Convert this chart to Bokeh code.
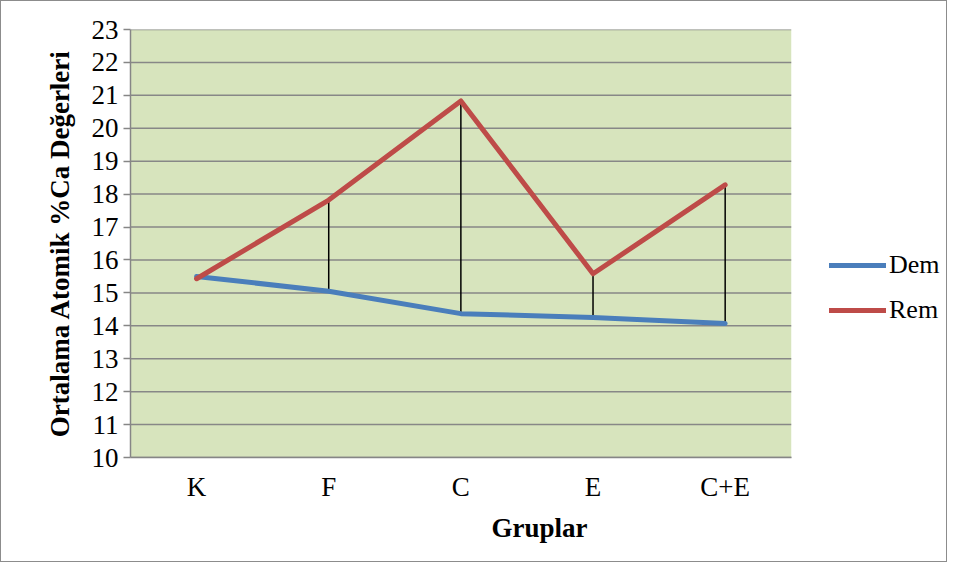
from bokeh.plotting import figure
from bokeh.models import Range1d, FixedTicker, Legend, LegendItem, BoxAnnotation
from bokeh.embed import file_html
from bokeh.resources import INLINE

categories = ["K", "F", "C", "E", "C+E"]
dem = [15.5, 15.05, 14.37, 14.25, 14.07]
rem = [15.43, 17.82, 20.83, 15.58, 18.28]
y_ticks = list(range(10, 24))

FONT = "Liberation Serif"
xpos = list(range(len(categories)))
x_lo, x_hi = -0.5, len(categories) - 0.5

p = figure(width=947, height=562, output_backend="svg", toolbar_location=None,
           x_range=Range1d(x_lo, x_hi + 1.19),
           y_range=Range1d(10, 23),
           min_border_left=129, min_border_right=0,
           min_border_top=28, min_border_bottom=106)
p.styles = {"border": "1.5px solid #8c8c8c"}
p.background_fill_color = "white"
p.border_fill_color = "white"
p.outline_line_color = None

# plot area background only over the category span
p.add_layout(BoxAnnotation(left=x_lo, right=x_hi, fill_color="#d7e4bd", fill_alpha=1,
                           line_color=None, level="underlay"))

p.xgrid.grid_line_color = None
p.ygrid.grid_line_color = None
# horizontal grid lines over the category span
p.segment(x0=[x_lo] * len(y_ticks), x1=[x_hi] * len(y_ticks), y0=y_ticks, y1=y_ticks,
          line_color="#878787", line_width=1.5)

# high-low lines
p.segment(x0=xpos, y0=dem, x1=xpos, y1=rem, line_color="black", line_width=1.5)

r_dem = p.line(xpos, dem, line_color="#4a7ebb", line_width=5, line_join="round", line_cap="round")
r_rem = p.line(xpos, rem, line_color="#be4b48", line_width=5, line_join="round", line_cap="round")

p.yaxis.ticker = FixedTicker(ticks=y_ticks)
p.xaxis.ticker = FixedTicker(ticks=xpos)
p.xaxis.major_label_overrides = {i: c for i, c in zip(xpos, categories)}
p.xaxis.bounds = (x_lo, x_hi)

for ax in (p.xaxis[0], p.yaxis[0]):
    ax.axis_line_color = "#868686"
    ax.axis_line_width = 1.5
    ax.major_label_text_font = FONT
    ax.major_label_text_font_size = "27px"
    ax.major_label_text_color = "black"
    ax.axis_label_text_font = FONT
    ax.axis_label_text_font_size = "27px"
    ax.axis_label_text_font_style = "bold"
    ax.axis_label_text_color = "black"
    ax.minor_tick_line_color = None

p.yaxis.major_tick_line_color = "#868686"
p.yaxis.major_tick_line_width = 1.5
p.yaxis.major_tick_out = 7
p.yaxis.major_tick_in = 0
p.yaxis.major_label_standoff = 5
p.yaxis.axis_label = "Ortalama Atomik %Ca Değerleri"
p.yaxis.axis_label_standoff = 14

p.xaxis.major_tick_line_color = None
p.xaxis.major_tick_out = 0
p.xaxis.major_tick_in = 0
p.xaxis.major_label_standoff = 14
p.xaxis.axis_label = "Gruplar"
p.xaxis.axis_label_standoff = 8

legend = Legend(items=[LegendItem(label="Dem", renderers=[r_dem]),
                       LegendItem(label="Rem", renderers=[r_rem])],
                location=(699, 132), orientation="vertical",
                glyph_width=57, glyph_height=20, label_standoff=3, spacing=15,
                padding=0, margin=0, border_line_color=None, background_fill_alpha=0,
                label_text_font=FONT, label_text_font_size="26px", label_text_color="black")
p.add_layout(legend)

open("out.html", "w").write(file_html(p, INLINE))
